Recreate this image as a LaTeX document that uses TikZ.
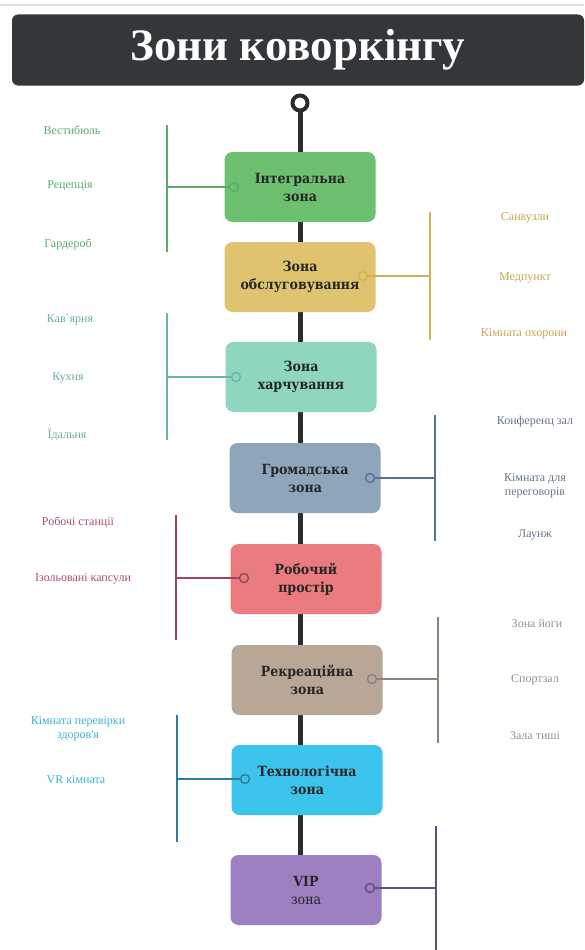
\documentclass[tikz,border=0pt]{standalone}
\usepackage{fontspec}
\setmainfont{Liberation Serif}
\newfontfamily\boxfont{DejaVu Serif Condensed}
\newfontfamily\labfont{Liberation Serif}
\definecolor{spine}{HTML}{2A2D30}
\definecolor{titlebg}{HTML}{343739}
\definecolor{gBox}{HTML}{6CC070}\definecolor{gLine}{HTML}{5BAA6A}\definecolor{gLab}{HTML}{58AC6C}
\definecolor{yBox}{HTML}{DFC36E}\definecolor{yLine}{HTML}{D1B158}\definecolor{yLab}{HTML}{C6A64C}
\definecolor{tBox}{HTML}{8ED6C0}\definecolor{tLine}{HTML}{68B6A2}\definecolor{tLab}{HTML}{66B2A0}
\definecolor{sBox}{HTML}{8FA5B9}\definecolor{sLine}{HTML}{5C7092}\definecolor{sLab}{HTML}{66768E}
\definecolor{rBox}{HTML}{EA7B7E}\definecolor{rLine}{HTML}{9A475C}\definecolor{rLab}{HTML}{AE4E66}
\definecolor{bBox}{HTML}{B8A797}\definecolor{bLine}{HTML}{8E8378}\definecolor{bLab}{HTML}{9A9088}
\definecolor{cBox}{HTML}{3CC4EC}\definecolor{cLine}{HTML}{2A7F98}\definecolor{cLab}{HTML}{3CB4D4}
\definecolor{pBox}{HTML}{9D80C2}\definecolor{pLine}{HTML}{5E4E80}
\tikzset{
  zone/.style={rounded corners=8pt, minimum width=151pt, minimum height=70pt, inner sep=0pt,
    align=center, font=\boxfont\bfseries\fontsize{14}{18}\selectfont, text=black!85},
  lab/.style={align=center, font=\labfont\fontsize{12}{14}\selectfont},
  branch/.style={line width=2pt},
  dot/.style={circle, draw, line width=1.4pt, minimum size=9pt, inner sep=0pt},
}
\begin{document}
\begin{tikzpicture}[x=1pt,y=-1pt]
\useasboundingbox (0,0) rectangle (584,950);
\fill[white] (0,0) rectangle (584,950);
\draw[black!12, line width=1.5pt] (0,5) -- (584,5);
% title
\node[fill=titlebg, rounded corners=6pt, minimum width=572pt, minimum height=71pt, inner sep=0pt,
  text=white, font=\bfseries\fontsize{45}{48}\selectfont] (title) at (298,50) {Зони коворкінгу};
% spine
\coordinate (top) at (300,103);
\coordinate (bot) at (300,856);
\draw[spine, line width=5pt] (top) -- (bot);
\node[circle, draw=spine, fill=white, line width=4pt, minimum size=15pt, inner sep=0pt] (topc) at (top) {};
% boxes
\node[zone, fill=gBox] (z1) at (300,187) {Інтегральна\\зона};
\node[zone, fill=yBox] (z2) at (300,277) {Зона\\обслуговування};
\node[zone, fill=tBox] (z3) at (301,377) {Зона\\харчування};
\node[zone, fill=sBox] (z4) at (305,478) {Громадська\\зона};
\node[zone, fill=rBox] (z5) at (306,579) {Робочий\\простір};
\node[zone, fill=bBox] (z6) at (307,680) {Рекреаційна\\зона};
\node[zone, fill=cBox] (z7) at (307,780) {Технологічна\\зона};
\node[zone, fill=pBox] (z8) at (306,890) {VIP\\\textmd{зона}};
% 1 green left
\node[dot, draw=gLine, fill=gBox] (d1) at (234,187) {};
\coordinate (v1a) at (167,125); \coordinate (v1b) at (167,252); \coordinate (h1) at (167,187);
\draw[gLine, branch] (v1a) -- (v1b);
\draw[gLine, branch] (h1) -- (d1);
\node[lab, text=gLab] (l11) at (72,130) {Вестибюль};
\node[lab, text=gLab] (l12) at (70,186) {Рецепція};
\node[lab, text=gLab] (l13) at (68,244) {Гардероб};
% 2 gold right
\node[dot, draw=yLine, fill=yBox] (d2) at (363,276) {};
\coordinate (v2a) at (430,212); \coordinate (v2b) at (430,340); \coordinate (h2) at (430,276);
\draw[yLine, branch] (v2a) -- (v2b);
\draw[yLine, branch] (d2) -- (h2);
\node[lab, text=yLab] (l21) at (525,218) {Санвузли};
\node[lab, text=yLab] (l22) at (525,278) {Медпункт};
\node[lab, text=yLab] (l23) at (524,334) {Кімната охорони};
% 3 teal left
\node[dot, draw=tLine, fill=tBox] (d3) at (236,377) {};
\coordinate (v3a) at (167,313); \coordinate (v3b) at (167,440); \coordinate (h3) at (167,377);
\draw[tLine, branch] (v3a) -- (v3b);
\draw[tLine, branch] (h3) -- (d3);
\node[lab, text=tLab] (l31) at (70,320) {Кав`ярня};
\node[lab, text=tLab] (l32) at (68,378) {Кухня};
\node[lab, text=tLab] (l33) at (67,435) {Їдальня};
% 4 slate right
\node[dot, draw=sLine, fill=sBox] (d4) at (370,478) {};
\coordinate (v4a) at (435,415); \coordinate (v4b) at (435,541); \coordinate (h4) at (435,478);
\draw[sLine, branch] (v4a) -- (v4b);
\draw[sLine, branch] (d4) -- (h4);
\node[lab, text=sLab] (l41) at (535,422) {Конференц зал};
\node[lab, text=sLab] (l42) at (535,486) {Кімната для\\переговорів};
\node[lab, text=sLab] (l43) at (535,535) {Лаунж};
% 5 red left
\node[dot, draw=rLine, fill=rBox] (d5) at (244,578) {};
\coordinate (v5a) at (176,515); \coordinate (v5b) at (176,640); \coordinate (h5) at (176,578);
\draw[rLine, branch] (v5a) -- (v5b);
\draw[rLine, branch] (h5) -- (d5);
\node[lab, text=rLab] (l51) at (78,522) {Робочі станції};
\node[lab, text=rLab] (l52) at (83,579) {Ізольовані капсули};
% 6 tan right
\node[dot, draw=bLine, fill=bBox] (d6) at (372,679) {};
\coordinate (v6a) at (438,617); \coordinate (v6b) at (438,743); \coordinate (h6) at (438,679);
\draw[bLine, branch] (v6a) -- (v6b);
\draw[bLine, branch] (d6) -- (h6);
\node[lab, text=bLab] (l61) at (537,623) {Зона йоги};
\node[lab, text=bLab] (l62) at (535,680) {Спортзал};
\node[lab, text=bLab] (l63) at (535,736) {Зала тиші};
% 7 cyan left
\node[dot, draw=cLine, fill=cBox] (d7) at (245,779) {};
\coordinate (v7a) at (177,715); \coordinate (v7b) at (177,842); \coordinate (h7) at (177,779);
\draw[cLine, branch] (v7a) -- (v7b);
\draw[cLine, branch] (h7) -- (d7);
\node[lab, text=cLab] (l71) at (78,729) {Кімната перевірки\\здоров'я};
\node[lab, text=cLab] (l72) at (76,780) {VR кімната};
% 8 purple right
\node[dot, draw=pLine, fill=pBox] (d8) at (370,888) {};
\coordinate (v8a) at (436,826); \coordinate (v8b) at (436,950); \coordinate (h8) at (436,888);
\draw[pLine, branch] (v8a) -- (v8b);
\draw[pLine, branch] (d8) -- (h8);
\end{tikzpicture}
\end{document}
